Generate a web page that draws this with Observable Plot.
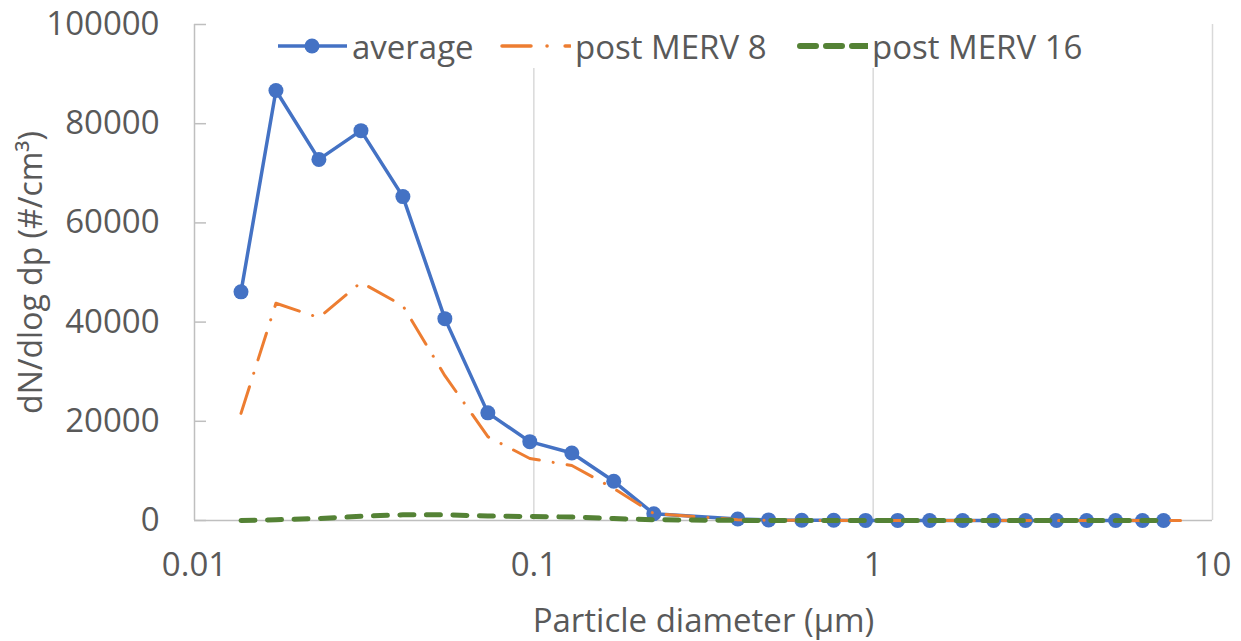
<!DOCTYPE html>
<html>
<head>
<meta charset="utf-8">
<script src="https://cdn.jsdelivr.net/npm/d3@7"></script>
<script src="https://cdn.jsdelivr.net/npm/@observablehq/plot@0.6"></script>
<style>
  html, body { margin: 0; padding: 0; background: #fff; }
  #wrap { position: relative; width: 1241px; height: 641px; font-family: "Open Sans", sans-serif; color: #595959; }
  .leg { position: absolute; top: 24px; height: 44px; display: flex; align-items: center; font-size: 33px; background: #fff; white-space: nowrap; }
  .leg svg { display: block; margin-right: 4px; }
</style>
</head>
<body>
<div id="wrap"></div>
<script>
// Particle diameters (µm)
const diameters = [0.01371, 0.01738, 0.02326, 0.03094, 0.04113, 0.05468, 0.0732, 0.0973, 0.1294, 0.1720, 0.2257,
  0.399, 0.492, 0.616, 0.765, 0.950, 1.181, 1.467, 1.835, 2.264, 2.813, 3.471, 4.256, 5.180, 6.220, 7.174];
const diametersMerv8 = [...diameters, 8.05];
// dN/dlog dp (#/cm³)
const average = [46100, 86700, 72800, 78600, 65300, 40700, 21700, 15900, 13600, 7900, 1350,
  300, 120, 60, 40, 25, 15, 10, 6, 4, 3, 2, 1, 1, 0, 0];
const postMerv8 = [21600, 43800, 40900, 48000, 43300, 29200, 16900, 12500, 11100, 6450, 1400,
  150, 60, 30, 20, 10, 6, 4, 2, 1, 1, 0, 0, 0, 0, 0, 0];
const postMerv16 = [0, 150, 400, 850, 1150, 1150, 900, 800, 700, 400, 150,
  20, 10, 5, 3, 2, 1, 1, 0, 0, 0, 0, 0, 0, 0, 0];
const xTicks = [0.01, 0.1, 1, 10];
const yTicks = [0, 20000, 40000, 60000, 80000, 100000];
const seriesNames = ["average", "post MERV 8", "post MERV 16"];
const colors = ["#4472C4", "#ED7D31", "#548235"];

const avgData = diameters.map((d, i) => ({d, v: average[i]}));
const m8Data = diametersMerv8.map((d, i) => ({d, v: postMerv8[i]}));
const m16Data = diameters.map((d, i) => ({d, v: postMerv16[i]}));

const W = 1241, ML = 194, MR = 29;
const chart = Plot.plot({
  width: W,
  height: 641,
  marginLeft: ML,
  marginRight: MR,
  marginTop: 24,
  marginBottom: 121,
  style: {fontFamily: "Open Sans, sans-serif", fontSize: "33px", color: "#595959", background: "#fff", overflow: "visible"},
  x: {type: "log", domain: [0.01, 10]},
  y: {domain: [0, 100000]},
  marks: [
    Plot.ruleX(xTicks.slice(1), {stroke: "#D9D9D9", strokeWidth: 1.5}),
    Plot.tickY(yTicks, {y: d => d, stroke: "#BFBFBF", strokeWidth: 1.5, insetRight: W - ML - MR - 12}),
    Plot.ruleX([xTicks[0]], {stroke: "#BFBFBF", strokeWidth: 1.5}),
    Plot.ruleY([0], {stroke: "#BFBFBF", strokeWidth: 1.5}),
    Plot.axisY({ticks: yTicks, tickSize: 0, tickPadding: 35,
      tickFormat: d => String(d), label: null}),
    Plot.axisY({ticks: [], label: "dN/dlog dp (#/cm³)", labelArrow: "none", labelAnchor: "center", labelOffset: 175, fontSize: 32}),
    Plot.axisX({ticks: xTicks, tickSize: 0, tickPadding: 32, tickFormat: d => String(d),
      label: "Particle diameter (µm)", labelArrow: "none", labelAnchor: "center", labelOffset: 111}),
    Plot.line(avgData, {x: "d", y: "v", stroke: colors[0], strokeWidth: 3.5}),
    Plot.dot(avgData, {x: "d", y: "v", r: 7.5, fill: colors[0]}),
    Plot.line(m8Data, {x: "d", y: "v", stroke: colors[1], strokeWidth: 3, strokeDasharray: "28 14 0.1 14", strokeLinecap: "round"}),
    Plot.line(m16Data, {x: "d", y: "v", stroke: colors[2], strokeWidth: 5, strokeDasharray: "14 12.5", strokeLinecap: "round"})
  ]
});

const wrap = document.getElementById("wrap");
wrap.appendChild(chart);

// Legend (overlaid on the plot area, like the original)
const legendLeft = [277, 500, 797];
const swatches = [
  `<svg width="71" height="20"><line x1="1" y1="10" x2="70" y2="10" stroke="${colors[0]}" stroke-width="3.5"/><circle cx="35" cy="10" r="7.5" fill="${colors[0]}"/></svg>`,
  `<svg width="71" height="20"><line x1="2" y1="10" x2="70" y2="10" stroke="${colors[1]}" stroke-width="3.5" stroke-linecap="round" stroke-dasharray="29 16 0.1 18"/></svg>`,
  `<svg width="71" height="20"><line x1="3" y1="10" x2="70" y2="10" stroke="${colors[2]}" stroke-width="6" stroke-linecap="round" stroke-dasharray="16 10"/></svg>`
];
seriesNames.forEach((name, i) => {
  const div = document.createElement("div");
  div.className = "leg";
  div.style.left = legendLeft[i] + "px";
  div.innerHTML = swatches[i] + `<span>${name}</span>`;
  wrap.appendChild(div);
});
</script>
</body>
</html>
